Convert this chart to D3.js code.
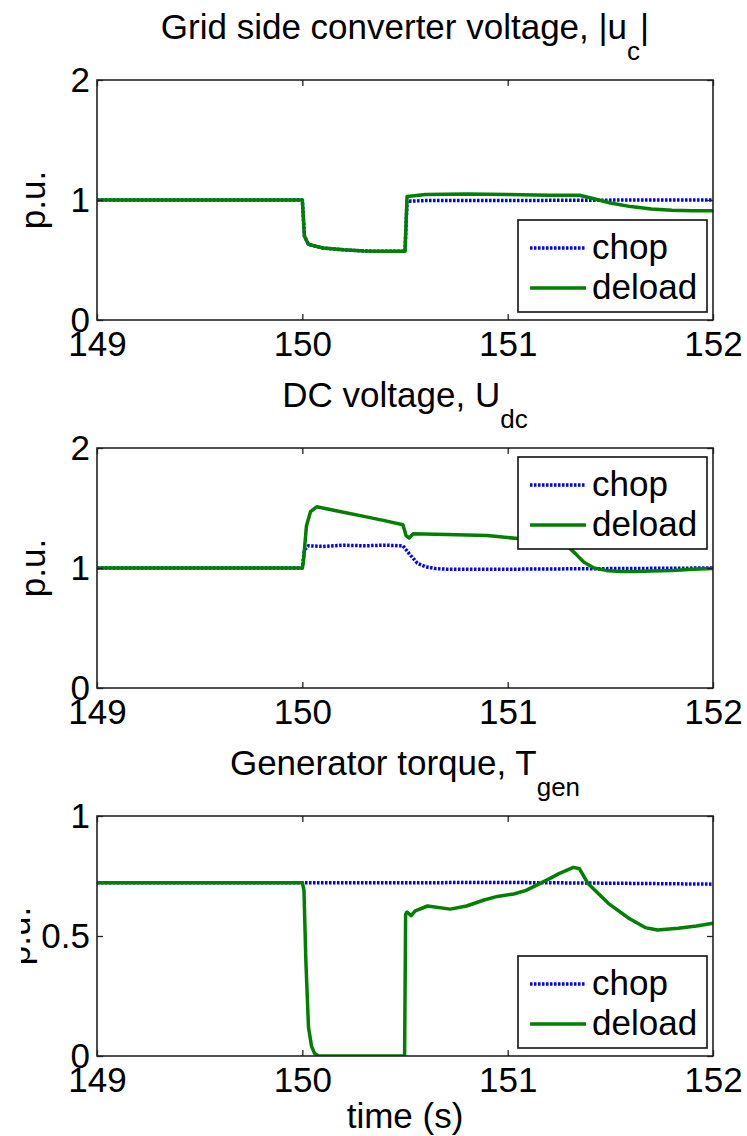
<!DOCTYPE html>
<html>
<head>
<meta charset="utf-8">
<script src="https://cdn.jsdelivr.net/npm/d3@7"></script>
<style>
  body { margin: 0; background: #fff; }
  text { font-family: "Liberation Sans", Arial, sans-serif; fill: #000; }
</style>
</head>
<body>
<svg id="fig" width="747" height="1136"></svg>
<script>
// ---- shared axis data ----
const timeTicks = [149, 150, 151, 152];
const seriesNames = ["chop", "deload"];

// ---- grid side converter voltage |u_c| (p.u.) ----
const ucTimeChop = [149, 149.5, 150.0, 150.01, 150.03, 150.1, 150.2, 150.3, 150.4, 150.5, 150.51, 150.6, 150.8, 151.0, 151.2, 151.4, 151.6, 151.8, 152];
const ucChop     = [1.0, 1.0, 1.0, 0.70, 0.63, 0.60, 0.585, 0.575, 0.572, 0.572, 0.99, 0.995, 0.995, 0.995, 0.997, 0.998, 1.0, 1.0, 1.0];
const ucTimeDeload = [149, 149.5, 150.0, 150.01, 150.03, 150.1, 150.2, 150.3, 150.4, 150.5, 150.51, 150.6, 150.8, 151.0, 151.2, 151.35, 151.42, 151.5, 151.6, 151.7, 151.8, 151.9, 152];
const ucDeload     = [1.0, 1.0, 1.0, 0.70, 0.63, 0.60, 0.585, 0.575, 0.572, 0.572, 1.03, 1.045, 1.05, 1.045, 1.04, 1.04, 1.01, 0.975, 0.945, 0.925, 0.915, 0.91, 0.91];

// ---- DC link voltage U_dc (p.u.) ----
const udcTimeChop = [149, 150.0, 150.01, 150.03, 150.1, 150.2, 150.3, 150.4, 150.49, 150.52, 150.56, 150.6, 150.65, 150.7, 151.0, 151.5, 152];
const udcChop     = [1.0, 1.0, 1.15, 1.185, 1.18, 1.19, 1.185, 1.19, 1.185, 1.12, 1.04, 1.01, 0.995, 0.99, 0.99, 0.995, 1.0];
const udcTimeDeload = [149, 150.0, 150.005, 150.02, 150.04, 150.07, 150.1, 150.2, 150.3, 150.4, 150.49, 150.505, 150.52, 150.54, 150.7, 150.9, 151.05, 151.2, 151.28, 151.33, 151.37, 151.42, 151.48, 151.55, 151.62, 151.7, 151.8, 151.9, 152];
const udcDeload     = [1.0, 1.0, 1.05, 1.35, 1.47, 1.51, 1.50, 1.465, 1.43, 1.395, 1.36, 1.27, 1.25, 1.285, 1.28, 1.27, 1.245, 1.23, 1.2, 1.12, 1.05, 1.0, 0.98, 0.97, 0.97, 0.975, 0.98, 0.99, 0.995];

// ---- generator torque T_gen (p.u.) ----
const tgTimeChop = [149, 150.0, 150.5, 151.0, 151.5, 152];
const tgChop     = [0.722, 0.722, 0.722, 0.723, 0.72, 0.716];
const tgTimeDeload = [149, 150.0, 150.008, 150.017, 150.03, 150.045, 150.06, 150.08, 150.498, 150.503, 150.51, 150.53, 150.55, 150.61, 150.72, 150.8, 150.885, 150.95, 151.03, 151.09, 151.19, 151.25, 151.32, 151.35, 151.39, 151.49, 151.59, 151.67, 151.73, 151.83, 151.92, 152];
const tgDeload     = [0.722, 0.722, 0.69, 0.40, 0.12, 0.04, 0.01, 0.0, 0.0, 0.59, 0.60, 0.585, 0.605, 0.625, 0.612, 0.625, 0.65, 0.665, 0.675, 0.69, 0.733, 0.76, 0.786, 0.78, 0.72, 0.636, 0.574, 0.535, 0.525, 0.532, 0.542, 0.553];

// ---- per-panel tick labels ----
const ticksVolt = [0, 1, 2];
const ticksTorque = [0, 0.5, 1];

const zip = (t, v) => t.map((d, i) => [d, v[i]]);

const panels = [
  { title: ["Grid side converter voltage, |u", "c", "|"], yDomain: [0, 2], yTicks: ticksVolt,
    chop: zip(ucTimeChop, ucChop), deload: zip(ucTimeDeload, ucDeload), legend: "bottom", ylabelX: 45 },
  { title: ["DC voltage, U", "dc", ""], yDomain: [0, 2], yTicks: ticksVolt,
    chop: zip(udcTimeChop, udcChop), deload: zip(udcTimeDeload, udcDeload), legend: "top", ylabelX: 45 },
  { title: ["Generator torque, T", "gen", ""], yDomain: [0, 1], yTicks: ticksTorque,
    chop: zip(tgTimeChop, tgChop), deload: zip(tgTimeDeload, tgDeload), legend: "bottom", ylabelX: 30 }
];

const colors = { chop: "#0000ff", deload: "#008000" };
const dashes = { chop: "2.5,1.5", deload: null };

const svg = d3.select("#fig");
svg.append("rect").attr("width", 747).attr("height", 1136).attr("fill", "#fff");

// figure edge clip (left side of the sheet is trimmed)
svg.append("clipPath").attr("id", "sheet")
  .append("rect").attr("x", 21).attr("y", 0).attr("width", 726).attr("height", 1136);

const left = 97, right = 713, plotH = 240;
const tops = [80, 448, 816];
const fontSize = 35;

const x = d3.scaleLinear().domain([149, 152]).range([left, right]);

panels.forEach((p, i) => {
  const top = tops[i], bottom = top + plotH;
  const y = d3.scaleLinear().domain(p.yDomain).range([bottom, top]);
  const g = svg.append("g");

  g.append("clipPath").attr("id", "plot" + i)
    .append("rect").attr("x", left).attr("y", top).attr("width", right - left).attr("height", plotH);

  // data lines
  const line = d3.line().x(d => x(d[0])).y(d => y(d[1]));
  const lines = g.append("g").attr("clip-path", `url(#plot${i})`);
  seriesNames.forEach(name => {
    lines.append("path")
      .datum(p[name])
      .attr("d", line)
      .attr("fill", "none")
      .attr("stroke", colors[name])
      .attr("stroke-width", 3.5)
      .attr("stroke-linejoin", "round")
      .attr("stroke-dasharray", dashes[name]);
  });

  // axes with inward ticks on all four sides
  const styleAxis = sel => {
    sel.select(".domain").remove();
    sel.selectAll(".tick line").attr("stroke", "#222").attr("stroke-width", 1.3);
    sel.selectAll(".tick text").attr("font-size", fontSize).attr("font-family", "Liberation Sans, Arial, sans-serif").attr("fill", "#000");
  };
  g.append("g").attr("transform", `translate(0,${bottom})`)
    .call(d3.axisBottom(x).tickValues(timeTicks).tickFormat(d3.format("d")).tickSizeInner(-6).tickSizeOuter(0).tickPadding(11))
    .call(styleAxis);
  g.append("g").attr("transform", `translate(0,${top})`)
    .call(d3.axisTop(x).tickValues(timeTicks).tickFormat("").tickSizeInner(-6).tickSizeOuter(0))
    .call(styleAxis);
  g.append("g").attr("transform", `translate(${left},0)`)
    .call(d3.axisLeft(y).tickValues(p.yTicks).tickFormat(d => String(d)).tickSizeInner(-6).tickSizeOuter(0).tickPadding(7))
    .call(styleAxis);
  g.append("g").attr("transform", `translate(${right},0)`)
    .call(d3.axisRight(y).tickValues(p.yTicks).tickFormat("").tickSizeInner(-6).tickSizeOuter(0))
    .call(styleAxis);

  // axes box
  g.append("rect").attr("x", left).attr("y", top).attr("width", right - left).attr("height", plotH)
    .attr("fill", "none").attr("stroke", "#222").attr("stroke-width", 1.6);

  // title with subscript
  const t = g.append("text").attr("x", (left + right) / 2).attr("y", top - 41)
    .attr("text-anchor", "middle").attr("font-size", fontSize);
  t.append("tspan").text(p.title[0]);
  t.append("tspan").attr("dy", 21).attr("font-size", 26).text(p.title[1]);
  if (p.title[2]) t.append("tspan").attr("dy", -21).text(p.title[2]);

  // y label
  g.append("g").attr("clip-path", "url(#sheet)")
    .append("text")
    .attr("transform", `translate(${p.ylabelX},${(top + bottom) / 2}) rotate(-90)`)
    .attr("text-anchor", "middle").attr("font-size", fontSize).text("p.u.");

  // legend
  const lw = 189, lh = 92;
  const lx = right - 6 - lw;
  const ly = p.legend === "top" ? top + 9 : bottom - 8 - lh;
  const lg = g.append("g").attr("transform", `translate(${lx},${ly})`);
  lg.append("rect").attr("width", lw).attr("height", lh).attr("fill", "#fff")
    .attr("stroke", "#111").attr("stroke-width", 1.6);
  seriesNames.forEach((name, k) => {
    const cy = 28 + k * 40;
    lg.append("line").attr("x1", 12).attr("x2", 68).attr("y1", cy).attr("y2", cy)
      .attr("stroke", colors[name]).attr("stroke-width", 3.5)
      .attr("stroke-dasharray", dashes[name]);
    lg.append("text").attr("x", 74).attr("y", cy).attr("dy", "0.32em")
      .attr("font-size", fontSize).text(name);
  });
});

// x label
svg.append("text").attr("x", (left + right) / 2).attr("y", 1128)
  .attr("text-anchor", "middle").attr("font-size", fontSize).text("time (s)");
</script>
</body>
</html>
